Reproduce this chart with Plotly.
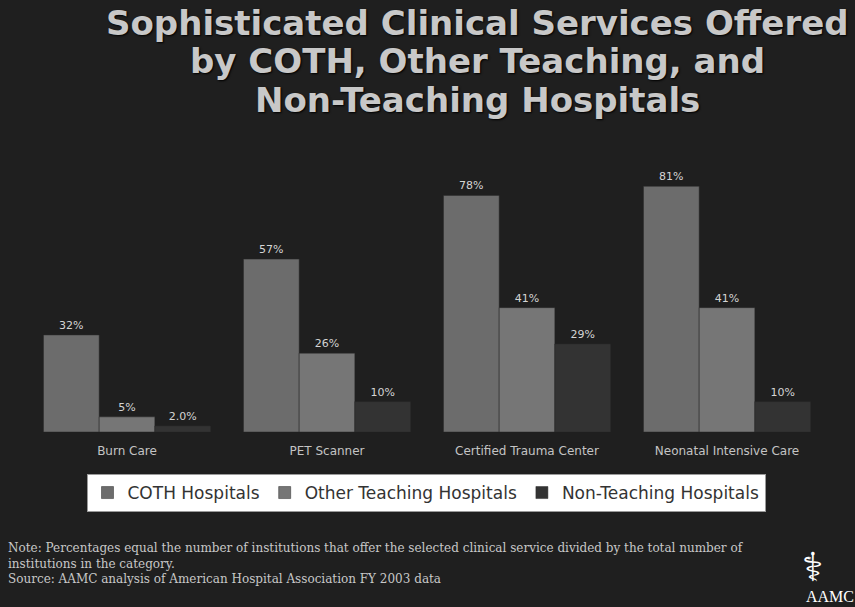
import plotly.graph_objects as go

categories = ["Burn Care", "PET Scanner", "Certified Trauma Center", "Neonatal Intensive Care"]
series_names = ["COTH Hospitals", "Other Teaching Hospitals", "Non-Teaching Hospitals"]
coth = [32, 57, 78, 81]
other_teaching = [5, 26, 41, 41]
non_teaching = [2.0, 10, 29, 10]
coth_labels = ["32%", "57%", "78%", "81%"]
other_labels = ["5%", "26%", "41%", "41%"]
non_labels = ["2.0%", "10%", "29%", "10%"]

title_lines = ["Sophisticated Clinical Services Offered",
               "by COTH, Other Teaching, and",
               "Non-Teaching Hospitals"]
note_lines = ["Note: Percentages equal the number of institutions that offer the selected clinical service divided by the total number of",
              "institutions in the category.",
              "Source: AAMC analysis of American Hospital Association FY 2003 data"]

BG = "#1f1f1f"
colors = ["#6c6c6c", "#767676", "#333333"]

# plot area geometry (pixels)
L, R, T, B = 27, 28, 159, 175
W, H = 855, 607
PW, PH = W - L - R, H - T - B


def px(x):
    return (x - L) / PW


def py(y):
    return (H - B - y) / PH


fig = go.Figure()
for name, vals, labs, col in zip(series_names, [coth, other_teaching, non_teaching],
                                 [coth_labels, other_labels, non_labels], colors):
    fig.add_trace(go.Bar(
        x=categories, y=vals, name=name, text=labs,
        textposition="outside", cliponaxis=False,
        textfont=dict(family="DejaVu Sans, sans-serif", size=11, color="#d4d4d4"),
        marker=dict(color=col, line=dict(color="#2a2a2a", width=0.5)),
    ))

annotations = []
for i, line in enumerate(title_lines):
    annotations.append(dict(
        text=line, x=px(477), y=py(23 + i * 38.5), xref="paper", yref="paper",
        showarrow=False, xanchor="center", yanchor="middle",
        font=dict(family="DejaVu Sans, sans-serif", size=34, color="#c8c8c8",
                  weight="bold", shadow="1px 1px 2px #000000"),
    ))
annotations.append(dict(
    text="<br>".join(note_lines), x=px(6), y=py(539), xref="paper", yref="paper",
    showarrow=False, xanchor="left", yanchor="top", align="left",
    font=dict(family="DejaVu Serif, serif", size=12, color="#c8c8c8"),
))
annotations.append(dict(text="⚕", x=px(813), y=py(567), xref="paper", yref="paper",
                        showarrow=False, xanchor="center", yanchor="middle",
                        font=dict(family="DejaVu Sans", size=40, color="#ffffff")))
annotations.append(dict(text="AAMC", x=px(856), y=py(596), xref="paper", yref="paper",
                        showarrow=False, xanchor="right", yanchor="middle",
                        font=dict(family="Liberation Serif, Times New Roman, serif", size=16, color="#ffffff")))

fig.update_layout(
    width=W, height=H,
    paper_bgcolor=BG, plot_bgcolor=BG,
    margin=dict(l=L, r=R, t=T, b=B),
    barmode="group", bargap=0.165, bargroupgap=0,
    showlegend=True,
    font=dict(family="DejaVu Sans, sans-serif"),
    xaxis=dict(
        showgrid=False, zeroline=False, showline=False,
        ticks="outside", ticklen=8, tickcolor=BG,
        tickfont=dict(family="DejaVu Sans, sans-serif", size=12, color="#c4c4c4"),
        range=[-0.5, 3.5],
    ),
    yaxis=dict(range=[0, 90], visible=False, showgrid=False, zeroline=False),
    legend=dict(
        orientation="h", x=px(426), xanchor="center", y=py(474), yanchor="top",
        bgcolor="#ffffff", bordercolor="#9a9a9a", borderwidth=1,
        font=dict(family="DejaVu Sans, sans-serif", size=17, color="#333333"),
        itemclick=False, traceorder="normal",
    ),
    annotations=annotations,
)

fig.write_html("out.html", config={"displayModeBar": False},
               post_script="document.body.style.margin='0';document.body.style.overflow='hidden';")
